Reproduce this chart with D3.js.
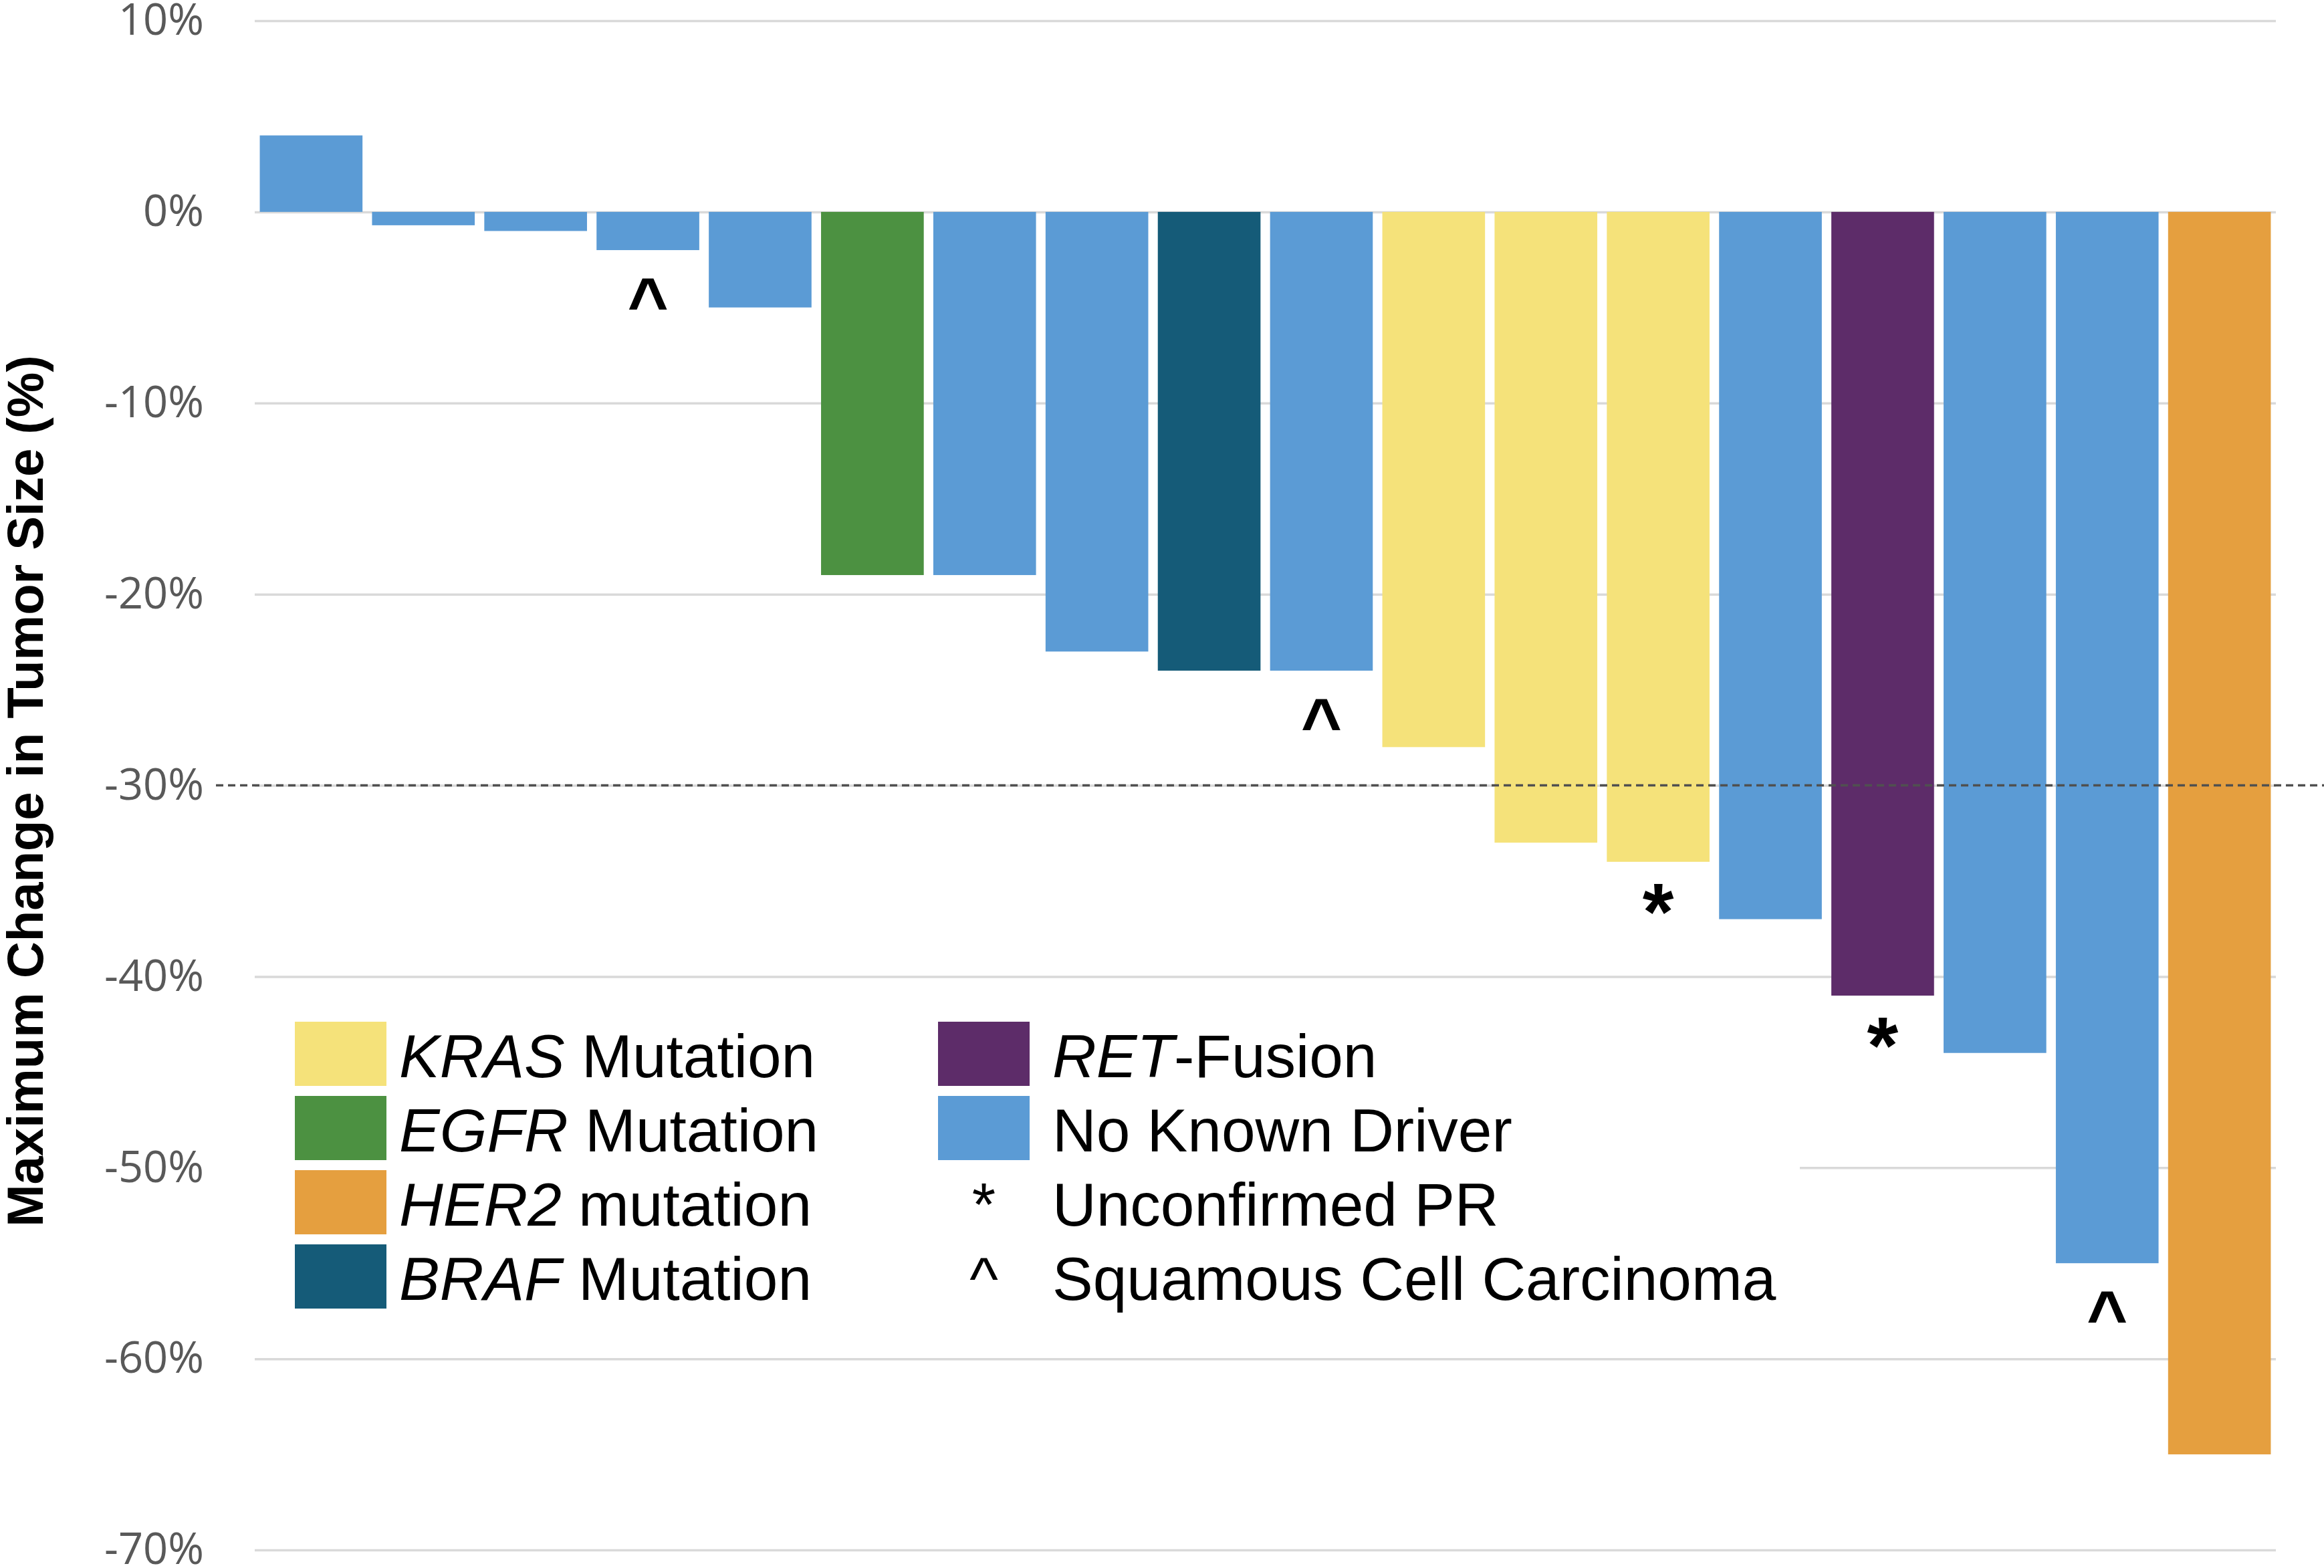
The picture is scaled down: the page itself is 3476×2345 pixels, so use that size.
<!DOCTYPE html>
<html>
<head>
<meta charset="utf-8">
<script src="https://cdn.jsdelivr.net/npm/d3@7"></script>
<style>
  html, body { margin: 0; padding: 0; background: #ffffff; }
  svg { display: block; }
</style>
</head>
<body>
<script>
// ---------- data ----------
const patients = ["P1","P2","P3","P4","P5","P6","P7","P8","P9","P10","P11","P12","P13","P14","P15","P16","P17","P18"];
const changes  = [4, -0.7, -1, -2, -5, -19, -19, -23, -24, -24, -28, -33, -34, -37, -41, -44, -55, -65];
const drivers  = ["None","None","None","None","None","EGFR","None","None","BRAF","None","KRAS","KRAS","KRAS","None","RET","None","None","HER2"];
const marks    = ["","","","^","","","","","","^","","","*","","*","","^",""];
const yTicks   = [10, 0, -10, -20, -30, -40, -50, -60, -70];
const threshold = -30;

const driverKeys   = ["KRAS","EGFR","HER2","BRAF","RET","None"];
const driverColors = ["#F5E27A","#4C9141","#E59F3F","#155B78","#5D2C69","#5B9BD5"];

const legendCol1 = [
  {key:"KRAS", ital:"KRAS", rest:" Mutation"},
  {key:"EGFR", ital:"EGFR", rest:" Mutation"},
  {key:"HER2", ital:"HER2", rest:" mutation"},
  {key:"BRAF", ital:"BRAF", rest:" Mutation"}
];
const legendCol2 = [
  {key:"RET",  sym:null, ital:"RET", rest:"-Fusion"},
  {key:"None", sym:null, ital:"",    rest:"No Known Driver"},
  {key:null,   sym:"*",  ital:"",    rest:"Unconfirmed PR"},
  {key:null,   sym:"^",  ital:"",    rest:"Squamous Cell Carcinoma"}
];
const yTitle = "Maximum Change in Tumor Size (%)";

// ---------- setup ----------
const W = 3476, H = 2345;
const svg = d3.select("body").append("svg").attr("width", W).attr("height", H);
svg.append("rect").attr("width", W).attr("height", H).attr("fill", "#fff");

const plotL = 381, plotR = 3404;
const y = d3.scaleLinear().domain([-70, 10]).range([2318, 31]);
const x = d3.scaleBand().domain(patients).range([plotL, plotR]).paddingInner(0.085).paddingOuter(0.045);
const color = d3.scaleOrdinal().domain(driverKeys).range(driverColors);

// gridlines + tick labels
const yAxis = d3.axisLeft(y).tickValues(yTicks).tickFormat(d => d + "%")
  .tickSize(-(plotR - plotL)).tickPadding(76);
const gy = svg.append("g").attr("transform", `translate(${plotL},0)`).call(yAxis);
gy.select(".domain").remove();
gy.selectAll(".tick line").attr("stroke", "#D9D9D9").attr("stroke-width", 3.5);
gy.selectAll(".tick text").attr("fill", "#595959")
  .style("font-family", "'Open Sans', sans-serif").style("font-size", "65px");

// bars
svg.append("g").selectAll("rect").data(patients).join("rect")
  .attr("x", d => x(d))
  .attr("width", x.bandwidth())
  .attr("y", (d, i) => y(Math.max(0, changes[i])))
  .attr("height", (d, i) => Math.abs(y(changes[i]) - y(0)))
  .attr("fill", (d, i) => color(drivers[i]));

// threshold dashed line
svg.append("line")
  .attr("x1", 323).attr("x2", W)
  .attr("y1", y(threshold)).attr("y2", y(threshold))
  .attr("stroke", "#505050").attr("stroke-width", 3.5)
  .attr("stroke-dasharray", "11,7");

// markers under bars
svg.append("g").selectAll("text").data(patients).join("text")
  .attr("x", d => x(d) + x.bandwidth() / 2)
  .attr("y", (d, i) => y(changes[i]) + 116)
  .attr("text-anchor", "middle")
  .style("font-family", "'Liberation Sans', Arial, sans-serif")
  .style("font-weight", "bold")
  .style("font-size", (d, i) => marks[i] === "*" ? "120px" : "105px")
  .attr("fill", "#000")
  .text((d, i) => marks[i]);

// legend
const lg = svg.append("g");
lg.append("rect").attr("x", plotL).attr("y", 1480).attr("width", 2692 - plotL).attr("height", 530).attr("fill", "#fff");
const rowTop = i => 1528 + i * 111;
const sw = 137, sh = 96;
const legFont = "'Liberation Sans', Arial, sans-serif";

function legendText(g, xPos, yPos, item) {
  const t = g.append("text").attr("x", xPos).attr("y", yPos)
    .style("font-family", legFont).style("font-size", "91px").attr("fill", "#000");
  if (item.ital) t.append("tspan").style("font-style", "italic").text(item.ital);
  t.append("tspan").text(item.rest);
}

legendCol1.forEach((it, i) => {
  lg.append("rect").attr("x", 441).attr("y", rowTop(i)).attr("width", sw).attr("height", sh).attr("fill", color(it.key));
  legendText(lg, 597, rowTop(i) + 83, it);
});
legendCol2.forEach((it, i) => {
  if (it.key) {
    lg.append("rect").attr("x", 1403).attr("y", rowTop(i)).attr("width", sw).attr("height", sh).attr("fill", color(it.key));
  } else {
    lg.append("text").attr("x", 1403 + sw / 2).attr("y", rowTop(i) + 83)
      .attr("text-anchor", "middle")
      .style("font-family", legFont).style("font-size", "91px").attr("fill", "#000")
      .text(it.sym);
  }
  legendText(lg, 1574, rowTop(i) + 83, it);
});

// y-axis title
svg.append("text")
  .attr("transform", "translate(64,1183) rotate(-90)")
  .attr("text-anchor", "middle")
  .style("font-family", "'Liberation Sans', Arial, sans-serif")
  .style("font-weight", "bold").style("font-size", "76px")
  .attr("fill", "#000")
  .text(yTitle);
</script>
</body>
</html>
